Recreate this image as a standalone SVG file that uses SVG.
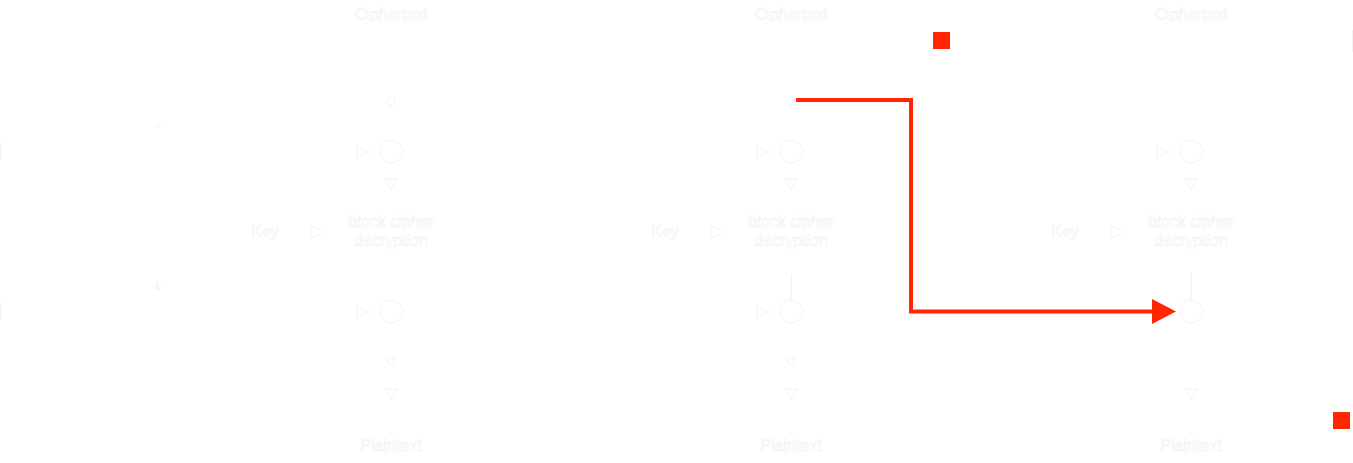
<svg xmlns="http://www.w3.org/2000/svg" width="1353" height="463" viewBox="0 0 1353 463">
<defs>
<style>
.t{font-family:"Liberation Sans",Arial,sans-serif;font-size:16px;fill:#ffffff;stroke:#ececec;stroke-width:0.4;text-anchor:middle}
.w{fill:#ffffff;stroke:#ececec;stroke-width:0.7}
.ln{fill:none;stroke:#ededed;stroke-width:0.7}
.red{fill:none;stroke:#ff2600;stroke-width:4}
</style>
</defs>
<rect width="1353" height="463" fill="#ffffff"/>
<g id="edge-marks">
<line class="ln" x1="0.5" y1="143" x2="0.5" y2="160"/>
<line class="ln" x1="0.5" y1="303" x2="0.5" y2="320"/>
<line class="ln" x1="1352.5" y1="30" x2="1352.5" y2="52"/>
<path class="ln" d="M156,128 L161,123 M158,125 L160,125"/>
<path class="ln" d="M157,280 L157,290 M158,285 a2,2 0 1,0 0.1,0"/>
</g>
<g id="block1">
<text class="t" x="391" y="20">Ciphertext</text>
<circle class="w" cx="391" cy="101" r="4"/>
<polygon class="w" points="357,146 369,152 357,158"/>
<circle class="w" cx="391.5" cy="151.5" r="11.5"/>
<polygon class="w" points="385,179 397,179 391,190"/>
<text class="t" x="265" y="237">Key</text>
<polygon class="w" points="312,226 322,232 312,238"/>
<text class="t" x="391" y="227">block cipher</text>
<text class="t" x="391" y="246">decryption</text>
<polygon class="w" points="357,306 369,312 357,318"/>
<circle class="w" cx="391.5" cy="311.5" r="11.5"/>
<circle class="w" cx="391" cy="361" r="4"/>
<polygon class="w" points="385,389 397,389 391,400"/>
<text class="t" x="391" y="451">Plaintext</text>
</g>
<g id="block2">
<text class="t" x="791" y="20">Ciphertext</text>
<circle class="w" cx="791" cy="101" r="4"/>
<polygon class="w" points="757,146 769,152 757,158"/>
<circle class="w" cx="791.5" cy="151.5" r="11.5"/>
<polygon class="w" points="785,179 797,179 791,190"/>
<text class="t" x="665" y="237">Key</text>
<polygon class="w" points="712,226 722,232 712,238"/>
<text class="t" x="791" y="227">block cipher</text>
<text class="t" x="791" y="246">decryption</text>
<line class="ln" x1="791.5" y1="275" x2="791.5" y2="300"/>
<polygon class="w" points="757,306 769,312 757,318"/>
<circle class="w" cx="791.5" cy="311.5" r="11.5"/>
<circle class="w" cx="791" cy="361" r="4"/>
<polygon class="w" points="785,389 797,389 791,400"/>
<text class="t" x="791" y="451">Plaintext</text>
</g>
<g id="block3">
<text class="t" x="1191" y="20">Ciphertext</text>
<polygon class="w" points="1157,146 1169,152 1157,158"/>
<circle class="w" cx="1191.5" cy="151.5" r="11.5"/>
<polygon class="w" points="1185,179 1197,179 1191,190"/>
<text class="t" x="1065" y="237">Key</text>
<polygon class="w" points="1112,226 1122,232 1112,238"/>
<text class="t" x="1191" y="227">block cipher</text>
<text class="t" x="1191" y="246">decryption</text>
<line class="ln" x1="1191.5" y1="272" x2="1191.5" y2="300"/>
<circle class="w" cx="1191.5" cy="311.5" r="11.5"/>
<polygon class="w" points="1185,389 1197,389 1191,400"/>
<text class="t" x="1191" y="451">Plaintext</text>
</g>
<g id="markers">
<rect x="933" y="32" width="17" height="17" fill="#ff2600"/>
<rect x="1333" y="412" width="17" height="17" fill="#ff2600"/>
</g>
<g id="connectors">
<path class="red" d="M796,100 L911,100 L911,311.5 L1154,311.5"/>
<polygon points="1152,299 1176,311.5 1152,324" fill="#ff2600"/>
</g>
</svg>
